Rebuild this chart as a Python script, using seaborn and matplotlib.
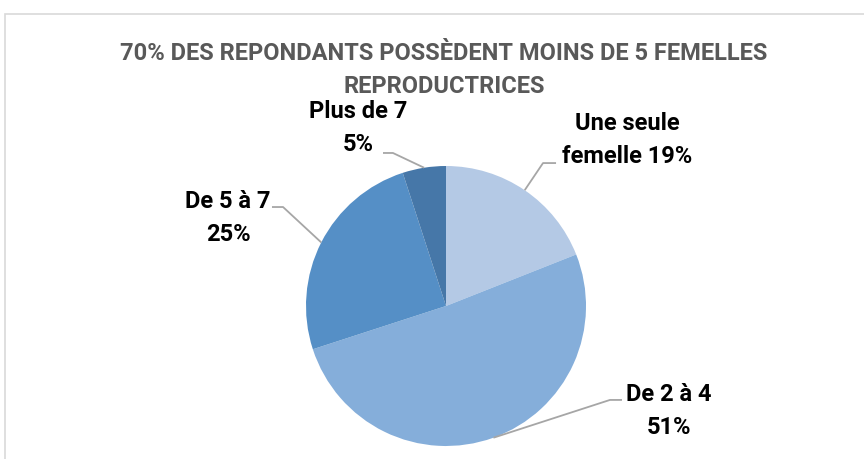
import numpy as np
import matplotlib
matplotlib.use("Agg")
import matplotlib.pyplot as plt
import seaborn as sns
from matplotlib.patches import Rectangle

# data
categories = ["Une seule\nfemelle", "De 2 à 4", "De 5 à 7", "Plus de 7"]
shares = [19, 51, 25, 5]
colors = ["#B4C9E5", "#85AEDA", "#558FC6", "#4677A8"]
title = "70% DES REPONDANTS POSSÈDENT MOINS DE 5 FEMELLES\nREPRODUCTRICES"

sns.set_theme(style="white")
plt.rcParams["font.family"] = ["Roboto", "DejaVu Sans"]

fig = plt.figure(figsize=(8.64, 4.59), dpi=100)
fig.patch.set_facecolor("white")

# chart border
fig.patches.append(Rectangle((5 / 864, -0.2), 1.2, 0.2 + (459 - 14) / 459,
                             transform=fig.transFigure, fill=False,
                             edgecolor="#D9D9D9", lw=1.2))

ax = fig.add_axes([306 / 864, 13 / 459, 280 / 864, 280 / 459])
wedges, _ = ax.pie(shares, colors=colors, startangle=90, counterclock=False,
                   wedgeprops=dict(linewidth=0))
ax.set_xlim(-1, 1)
ax.set_ylim(-1, 1)
ax.axis("off")

# label placements (elbow, line end, text centre) in pie units
elbows = [(0.693, 1.021), (1.171, -0.671), (-1.164, 0.707), (-0.379, 1.093)]
ends = [(0.786, 1.021), (1.257, -0.671), (-1.243, 0.707), (-0.45, 1.093)]
texts = [(1.293, 1.186), (1.593, -0.75), (-1.557, 0.629), (-0.629, 1.271)]
labels = ["Une seule\nfemelle 19%", "De 2 à 4\n51%", "De 5 à 7\n25%", "Plus de 7\n5%"]

for w, el, en, tx, lab in zip(wedges, elbows, ends, texts, labels):
    ang = np.deg2rad((w.theta1 + w.theta2) / 2)
    p = (np.cos(ang), np.sin(ang))
    ax.plot([p[0], el[0], en[0]], [p[1], el[1], en[1]], color="#A6A6A6",
            lw=1.3, clip_on=False, solid_capstyle="butt")
    ax.text(tx[0], tx[1], lab, ha="center", va="center", fontsize=17,
            fontweight="bold", color="black", linespacing=1.55)

fig.text(444 / 864, 1 - 70 / 459, title, ha="center", va="center",
         fontsize=17, fontweight="bold", color="#595959", linespacing=1.6)

fig.savefig("out.png", dpi=100)
